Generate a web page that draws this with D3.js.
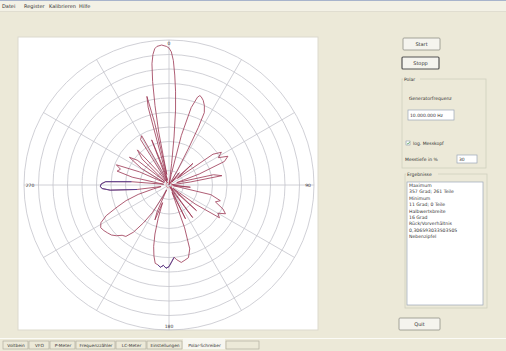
<!DOCTYPE html>
<html>
<head>
<meta charset="utf-8">
<script src="https://cdn.jsdelivr.net/npm/d3@7"></script>
<style>
  body { margin: 0; background: #ece9d8; overflow: hidden; }
  svg text { font-family: "DejaVu Sans", "Liberation Sans", sans-serif; fill: #333; }
</style>
</head>
<body>
<script>
// measured antenna pattern, degrees clockwise from north, values in "Teile"
var angles = [0,1,2,3,4,5,6,7,8,9,10,11,12,14,16,18,19,20,22,24,26,27,28,30,32,36,40,44,48,52,55,58,61,64,67,70,73,77,80,82,85,88,92,96,99,103,107,110,114,117,120,123,126,129,133,136,140,144,147,150,154,157,160,162,165,168,171,174,176,178,180,182,184,186,188,190,192,194,196,198,200,202,204,206,208,211,214,217,220,223,226,229,232,235,238,241,244,247,250,253,256,259,262,265,267,269,271,273,275,278,282,285,288,291,294,297,301,305,308,311,314,318,321,324,328,331,333,336,339,341,343,345,346,347,348,349,350,351,352,353,354,355,357,359,360];
var values = [255,248,232,205,175,140,90,40,10,3,1,0,20,95,150,172,176,175,170,162,150,120,80,30,5,3,30,8,60,20,100,115,105,122,112,60,15,85,100,40,5,8,10,40,8,80,100,92,110,118,105,112,60,10,70,20,5,75,20,3,70,15,85,125,140,143,146,140,135,143,152,155,150,154,150,148,135,118,95,65,35,70,55,10,25,60,85,110,125,128,136,142,145,148,150,145,130,105,85,60,30,15,60,110,125,128,126,118,70,10,70,100,95,105,60,10,60,90,75,10,70,88,30,5,100,105,30,8,90,40,10,150,170,120,20,100,150,195,228,245,255,259,261,258,255];
// angle ranges drawn in the second (blue-violet) pen
var violetRanges = [[262, 276], [176, 188]];

var ringCount = 10;
var spokeAngles = [0,30,60,90,120,150,180,210,240,270,300,330];
var angleLabels = [{a: 0, t: "0"}, {a: 90, t: "90"}, {a: 180, t: "180"}, {a: 270, t: "270"}];

var menuItems = ["Datei", "Register", "Kalibrieren", "Hilfe"];
var tabLabels = ["Voltbein", "VFO", "P-Meter", "Frequenzzähler", "LC-Meter", "Einstellungen", "Polar-Schreiber", ""];
var tabEdges = [3, 29, 50, 76, 116, 147, 183, 226, 260];
var resultLines = ["Maximum", "357 Grad; 261 Teile", "Minimum", "11 Grad; 0 Teile", "Halbwertsbreite",
  "16 Grad", "Rück/Vorverhältnis", "0,306593033503505", "Nebenzipfel"];

var W = 506, H = 351;
var svg = d3.select("body").append("svg").attr("width", W).attr("height", H);

// window chrome
svg.append("rect").attr("width", W).attr("height", H).attr("fill", "#ece9d8");
svg.append("rect").attr("width", W).attr("height", 11).attr("fill", "#f3f1e6");
svg.append("line").attr("x1", 0).attr("x2", W).attr("y1", 0.5).attr("y2", 0.5).attr("stroke", "#a8b4cc");
svg.append("line").attr("x1", 0).attr("x2", W).attr("y1", 11.5).attr("y2", 11.5).attr("stroke", "#e0ddd0");

var menuX = [2, 24, 49, 79];
svg.selectAll("text.menu").data(menuItems).enter().append("text")
  .attr("class", "menu").attr("x", (d, i) => menuX[i]).attr("y", 8)
  .attr("font-size", 5).text(d => d);

// plot panel
var panel = {x: 18, y: 37, w: 300, h: 293};
svg.append("rect").attr("x", panel.x).attr("y", panel.y).attr("width", panel.w).attr("height", panel.h)
  .attr("fill", "#fff").attr("stroke", "#dcdacd").attr("stroke-width", 1);

var cx = 169, cy = 185, R = 145;
var g = svg.append("g").attr("transform", "translate(" + cx + "," + cy + ")");
var r = d3.scaleLinear().domain([0, 270]).range([0, R]);
var rad = d => d * Math.PI / 180;

// grid
g.selectAll("circle.ring").data(d3.range(1, ringCount + 1)).enter().append("circle")
  .attr("class", "ring").attr("r", d => R * d / ringCount)
  .attr("fill", "none").attr("stroke", "#c4c4cc").attr("stroke-width", 0.8);

g.selectAll("line.spoke").data(spokeAngles).enter().append("line")
  .attr("class", "spoke")
  .attr("x2", d => R * Math.sin(rad(d))).attr("y2", d => -R * Math.cos(rad(d)))
  .attr("stroke", "#c4c4cc").attr("stroke-width", 0.8);

g.selectAll("text.alab").data(angleLabels).enter().append("text")
  .attr("class", "alab")
  .attr("x", d => (R - 3) * Math.sin(rad(d.a)) + (d.a === 90 ? -3 : d.a === 270 ? 3 : 0))
  .attr("y", d => -(R - 3) * Math.cos(rad(d.a)) + (d.a === 0 ? 2 : d.a === 180 ? 1 : 2))
  .attr("text-anchor", "middle").attr("font-size", 4.5).attr("fill", "#555").text(d => d.t);

// pattern trace
var pts = angles.map((a, i) => ({a: a, v: values[i]}));
var line = d3.lineRadial().angle(d => rad(d.a)).radius(d => r(d.v));

g.append("path").datum(pts).attr("d", line)
  .attr("fill", "none").attr("stroke", "#9a3552").attr("stroke-width", 0.8);

violetRanges.forEach(function(rg) {
  var seg = pts.filter(d => d.a >= rg[0] && d.a <= rg[1]);
  g.append("path").datum(seg).attr("d", line)
    .attr("fill", "none").attr("stroke", "#5b4492").attr("stroke-width", 1);
});

// bright red core where the nulls meet
g.append("circle").attr("r", 3).attr("fill", "none").attr("stroke", "#d04050").attr("stroke-width", 0.6).attr("opacity", 0.6);

// right-hand controls
function button(x, y, w, h, label, focus) {
  svg.append("rect").attr("x", x).attr("y", y).attr("width", w).attr("height", h).attr("rx", 1)
    .attr("fill", "#f5f4ee").attr("stroke", focus ? "#555" : "#8f8f86").attr("stroke-width", focus ? 1.2 : 0.8);
  svg.append("text").attr("x", x + w / 2).attr("y", y + h / 2 + 2).attr("text-anchor", "middle")
    .attr("font-size", 5).text(label);
}
function group(x, y, w, h, label) {
  svg.append("rect").attr("x", x).attr("y", y).attr("width", w).attr("height", h)
    .attr("fill", "none").attr("stroke", "#d0cfbf").attr("stroke-width", 0.8);
  svg.append("rect").attr("x", x + 1).attr("y", y - 3).attr("width", label.length * 3 + 2).attr("height", 5)
    .attr("fill", "#ece9d8");
  svg.append("text").attr("x", x + 2).attr("y", y + 1.5).attr("font-size", 4.5).text(label);
}
function textbox(x, y, w, h, txt) {
  svg.append("rect").attr("x", x).attr("y", y).attr("width", w).attr("height", h)
    .attr("fill", "#fff").attr("stroke", "#9aa6b8").attr("stroke-width", 0.7);
  svg.append("text").attr("x", x + 2).attr("y", y + h / 2 + 1.8).attr("font-size", 4.5).text(txt);
}

button(403, 38, 37, 12, "Start", false);
button(402, 57, 37, 12, "Stopp", true);
group(402, 79, 84, 89, "Polar");
svg.append("text").attr("x", 409).attr("y", 100).attr("font-size", 4.5).text("Generatorfrequenz");
textbox(408, 110, 46, 10, "10.000.000 Hz");
svg.append("rect").attr("x", 406).attr("y", 141).attr("width", 4).attr("height", 4)
  .attr("fill", "#fff").attr("stroke", "#7a8aa0").attr("stroke-width", 0.5);
svg.append("path").attr("d", "M406.8,143 l1.2,1.2 l1.8,-2.4").attr("fill", "none").attr("stroke", "#2a8a2a").attr("stroke-width", 0.6);
svg.append("text").attr("x", 413).attr("y", 145).attr("font-size", 4.5).text("log. Messkopf");
svg.append("text").attr("x", 405).attr("y", 161).attr("font-size", 4.5).text("Messtiefe in %");
textbox(457, 155, 20, 8, "30");

group(405, 174, 82, 134, "Ergebnisse");
svg.append("rect").attr("x", 407).attr("y", 182).attr("width", 76).attr("height", 123)
  .attr("fill", "#fff").attr("stroke", "#9aa6b8").attr("stroke-width", 0.7);
svg.selectAll("text.res").data(resultLines).enter().append("text")
  .attr("class", "res").attr("x", 409).attr("y", (d, i) => 187 + i * 6.4)
  .attr("font-size", 4.6).text(d => d);

button(399, 318, 41, 12, "Quit", false);

// bottom tab strip
svg.append("line").attr("x1", 0).attr("x2", W).attr("y1", 338.5).attr("y2", 338.5).attr("stroke", "#fbfbf6");
var tabs = tabLabels.map((t, i) => ({t: t, x0: tabEdges[i], x1: tabEdges[i + 1], active: t === "Polar-Schreiber"}));
var tg = svg.selectAll("g.tab").data(tabs).enter().append("g").attr("class", "tab");
tg.append("rect").attr("x", d => d.x0).attr("y", d => d.active ? 339 : 341)
  .attr("width", d => d.x1 - d.x0 - 1).attr("height", d => d.active ? 10 : 8)
  .attr("fill", d => d.active ? "#f7f6f0" : "#ece9d8")
  .attr("stroke", d => d.active ? "none" : "#a8a696").attr("stroke-width", 0.6);
tg.append("text").attr("x", d => (d.x0 + d.x1) / 2).attr("y", d => d.active ? 346.5 : 347)
  .attr("text-anchor", "middle").attr("font-size", 4.3).text(d => d.t);
</script>
</body>
</html>
